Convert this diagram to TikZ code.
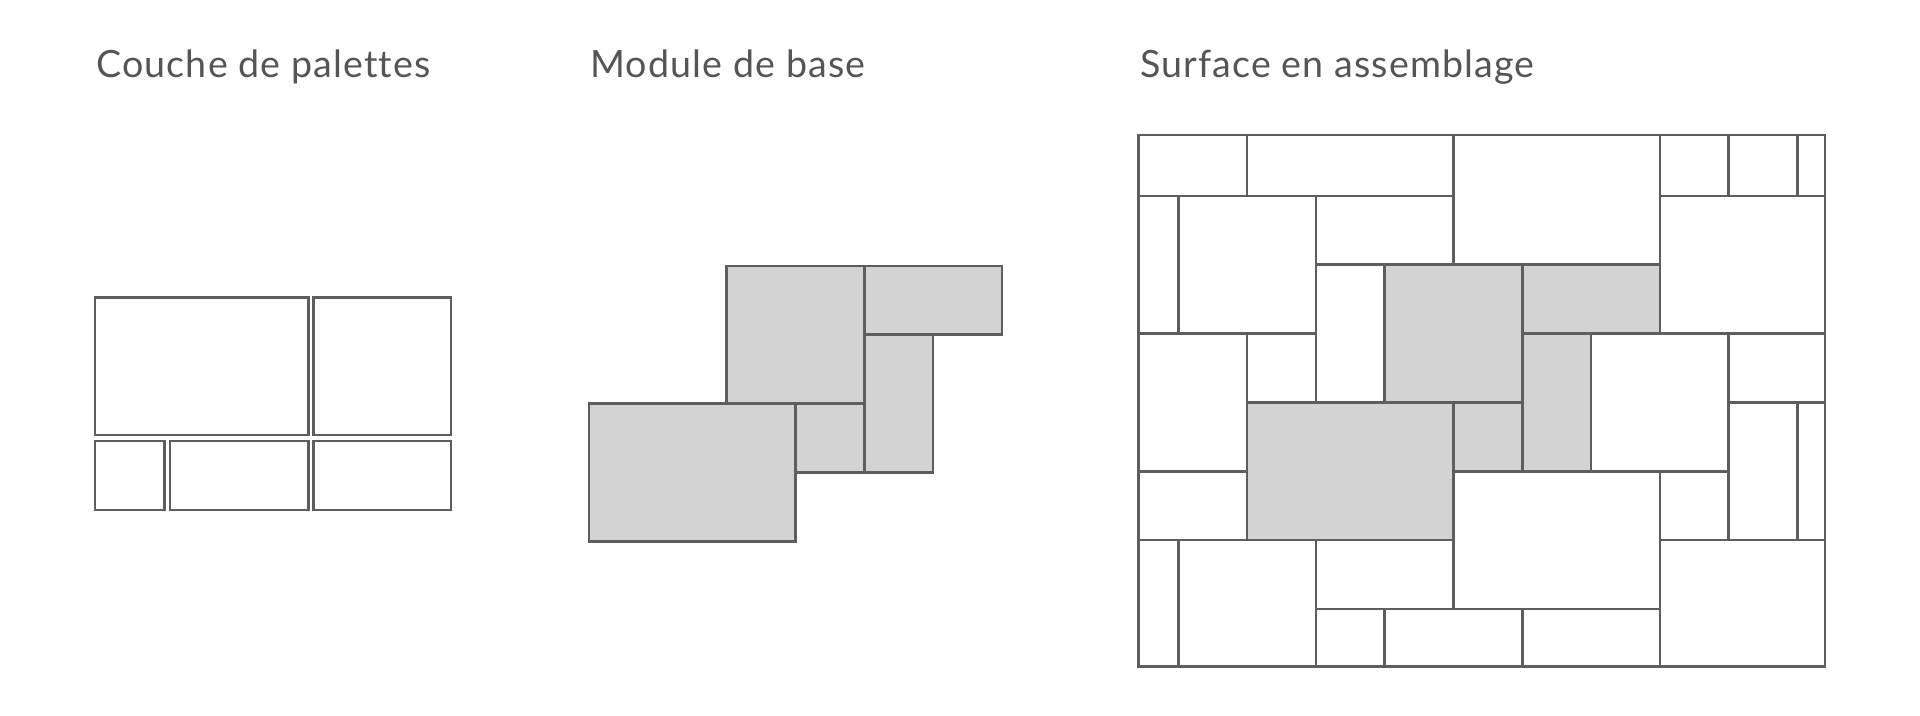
\documentclass[tikz,border=0pt]{standalone}
\usepackage{fontspec}
\setmainfont[Ligatures=NoCommon, LetterSpace=3]{Lato}
\definecolor{linegray}{HTML}{5E5E5E}
\definecolor{tilegray}{HTML}{D3D3D3}
\definecolor{textgray}{HTML}{555555}
\begin{document}
\begin{tikzpicture}[x=0.5pt,y=-0.5pt]
        \tikzset{tile/.style={draw=linegray, line width=1.3pt},
                 gtile/.style={tile, fill=tilegray},
                 title/.style={anchor=base west, inner sep=0pt, text=textgray, font=\fontsize{18.8}{20}\selectfont}}
        \useasboundingbox (0,0) rectangle (1920,716);

        % titles
        \draw node[title] (tcouche) at (96,77.5) {Couche de palettes};
        \draw node[title] (tmodule) at (590,77.5) {Module de base};
        \draw node[title] (tsurface) at (1140,77.5) {Surface en assemblage};

        % couche de palettes
        \draw[tile] (95,297.7) rectangle (308.3,435);
        \draw[tile] (313.3,297.7) rectangle (451,435);
        \draw[tile] (95,441) rectangle (164.3,510);
        \draw[tile] (170,441) rectangle (308.3,510);
        \draw[tile] (313.3,441) rectangle (451,510);

        % module de base
        \begin{scope}[shift={(589,266)}, x=34.4pt, y=-34.4pt]
            \foreach \xa/\ya/\xb/\yb in {2/0/4/2, 4/0/6/1, 4/1/5/3, 3/2/4/3, 0/2/3/4}
                \draw[gtile] (\xa,\ya) rectangle (\xb,\yb);
        \end{scope}

        % surface en assemblage
        \begin{scope}[shift={(1178.3,196)}, x=34.4pt, y=-34.4pt]
            \def\L{-0.581} \def\R{9.397} \def\T{-0.887} \def\B{6.839}
            \foreach \xa/\ya/\xb/\yb in {\L/\T/1/0, 1/\T/4/0, 4/\T/7/1, 7/\T/8/0, 8/\T/9/0, 9/\T/\R/0,
                    \L/0/0/2, 0/0/2/2, 2/0/4/1, 7/0/\R/2, 2/1/3/3,
                    \L/2/1/4, 1/2/2/3, 6/2/8/4, 8/2/\R/3, 8/3/9/5, 9/3/\R/5,
                    \L/4/1/5, 4/4/7/6, 7/4/8/5,
                    \L/5/0/\B, 0/5/2/\B, 2/5/4/6, 7/5/\R/\B, 2/6/3/\B, 3/6/5/\B, 5/6/7/\B}
                \draw[tile] (\xa,\ya) rectangle (\xb,\yb);
            \foreach \xa/\ya/\xb/\yb in {3/1/5/3, 5/1/7/2, 5/2/6/4, 4/3/5/4, 1/3/4/5}
                \draw[gtile] (\xa,\ya) rectangle (\xb,\yb);
        \end{scope}
    \end{tikzpicture}
\end{document}
